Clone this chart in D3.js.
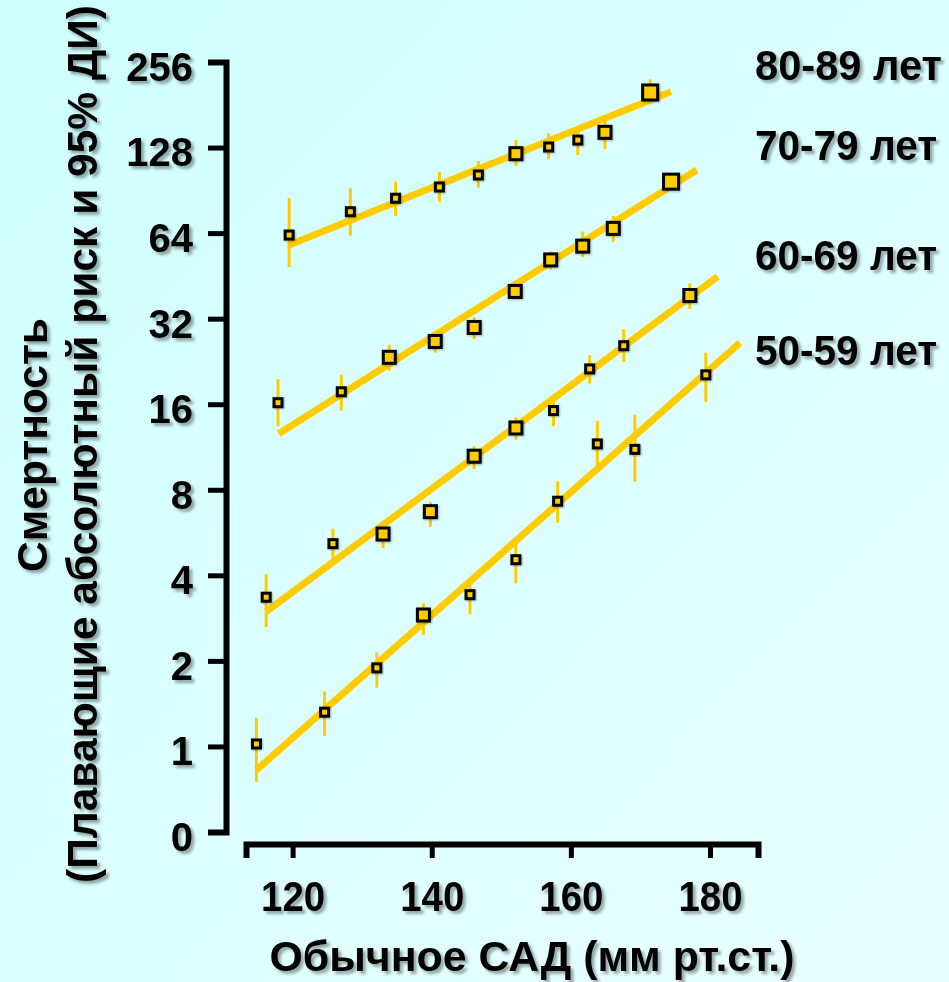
<!DOCTYPE html>
<html>
<head>
<meta charset="utf-8">
<script src="https://cdn.jsdelivr.net/npm/d3@7"></script>
<style>
  body { margin: 0; overflow: hidden; }
  svg { display: block; }
</style>
</head>
<body>
<svg id="chart" width="949" height="982"></svg>
<script>
// Смертность по возрастным группам в зависимости от обычного САД

var ageLabels = ["50-59 лет", "60-69 лет", "70-79 лет", "80-89 лет"];
var yTicks = [0.5, 1, 2, 4, 8, 16, 32, 64, 128, 256];
var xTicks = [120, 140, 160, 180];

// 50-59 лет
var sbp5059 = [114.8, 124.6, 132.1, 138.8, 145.5, 152.1, 158.1, 163.8, 169.2, 179.4];
var risk5059 = [1.02, 1.32, 1.89, 2.90, 3.42, 4.54, 7.29, 11.6, 11.1, 20.3];
var lo5059 = [0.75, 1.09, 1.61, 2.47, 2.92, 3.75, 6.13, 9.73, 8.54, 16.3];
var hi5059 = [1.26, 1.56, 2.14, 3.19, 3.75, 5.18, 8.57, 14.0, 14.7, 24.3];
var weight5059 = [1, 1, 1, 2, 1, 1, 1, 1, 1, 1];
var fit5059 = [[114.8, 0.826], [184.3, 26.3]];

// 60-69 лет
var sbp6069 = [116.2, 125.8, 133.0, 139.8, 146.1, 152.1, 157.5, 162.7, 167.6, 177.1];
var risk6069 = [3.35, 5.17, 5.59, 6.70, 10.5, 13.2, 15.2, 21.3, 25.7, 38.6];
var lo6069 = [2.63, 4.53, 4.99, 5.93, 9.45, 12.0, 13.4, 18.9, 22.5, 34.6];
var hi6069 = [4.04, 5.84, 6.02, 7.25, 11.4, 14.4, 16.6, 23.8, 29.4, 42.6];
var weight6069 = [1, 1, 2, 2, 2, 2, 1, 1, 1, 2];
var fit6069 = [[116.2, 2.98], [181.1, 45.0]];

// 70-79 лет
var sbp7079 = [117.9, 127.0, 133.9, 140.5, 146.1, 152.0, 157.1, 161.7, 166.1, 174.4];
var risk7079 = [16.2, 17.7, 23.4, 26.6, 29.8, 39.9, 51.5, 57.6, 66.5, 97.1];
var lo7079 = [13.4, 15.2, 21.0, 24.3, 27.1, 37.5, 47.7, 52.6, 59.7, 90.7];
var hi7079 = [19.6, 20.3, 25.9, 28.6, 32.4, 42.7, 55.1, 64.8, 73.5, 104];
var weight7079 = [1, 1, 2, 2, 2, 2, 2, 2, 2, 3];
var fit7079 = [[118.0, 12.6], [178.1, 106.7]];

// 80-89 лет
var sbp8089 = [119.5, 128.3, 134.8, 141.1, 146.7, 152.1, 156.8, 161.0, 164.9, 171.4];
var risk8089 = [63.0, 76.1, 84.9, 93.0, 102.5, 121.8, 128.6, 136, 144.8, 200];
var lo8089 = [48.6, 62.7, 73.5, 82.4, 92.5, 110.2, 116.4, 120.5, 126.5, 183];
var hi8089 = [85, 92, 97.1, 105, 114.8, 136, 143.7, 145.5, 160, 222.5];
var weight8089 = [1, 1, 1, 1, 1, 2, 1, 1, 2, 3];
var fit8089 = [[119.5, 58.1], [174.4, 201.3]];

function makeSeries(sbp, risk, lo, hi, weight) {
  return sbp.map(function(s, i) {
    return {sbp: s, risk: risk[i], lo: lo[i], hi: hi[i], w: weight[i]};
  });
}

var series = [
  {points: makeSeries(sbp5059, risk5059, lo5059, hi5059, weight5059), fit: fit5059},
  {points: makeSeries(sbp6069, risk6069, lo6069, hi6069, weight6069), fit: fit6069},
  {points: makeSeries(sbp7079, risk7079, lo7079, hi7079, weight7079), fit: fit7079},
  {points: makeSeries(sbp8089, risk8089, lo8089, hi8089, weight8089), fit: fit8089}
];

var gold = "#ffcc00",
    font = "'Liberation Sans', Arial, sans-serif";

var svg = d3.select("#chart");
var defs = svg.append("defs");

var grad = defs.append("linearGradient").attr("id", "bg")
    .attr("x1", 0).attr("y1", 0).attr("x2", 1).attr("y2", 1);
grad.append("stop").attr("offset", "0%").attr("stop-color", "#cefefe");
grad.append("stop").attr("offset", "100%").attr("stop-color", "#e9ffff");

defs.append("filter").attr("id", "shadow")
    .attr("x", "-10%").attr("y", "-20%").attr("width", "130%").attr("height", "150%")
  .append("feDropShadow")
    .attr("dx", 3).attr("dy", 3).attr("stdDeviation", 1.8)
    .attr("flood-color", "#000").attr("flood-opacity", 0.35);

defs.append("filter").attr("id", "mshadow")
    .attr("x", "-30%").attr("y", "-30%").attr("width", "170%").attr("height", "170%")
  .append("feDropShadow")
    .attr("dx", 1).attr("dy", 1).attr("stdDeviation", 0.8)
    .attr("flood-color", "#000").attr("flood-opacity", 0.3);

svg.append("rect").attr("width", 949).attr("height", 982).attr("fill", "url(#bg)");

var x = d3.scaleLinear().domain([113.3, 186.9]).range([246, 758]);
var y = d3.scaleLog().base(2).domain([0.5, 256]).range([832, 62]);
var side = d3.scaleOrdinal().domain([1, 2, 3]).range([8, 12, 15]);

// squeeze text to a given width
function fit(sel, w) {
  sel.attr("textLength", w).attr("lengthAdjust", "spacingAndGlyphs");
}

// axes
var yAxis = svg.append("g")
    .attr("transform", "translate(226,0)")
    .call(d3.axisLeft(y).tickValues(yTicks)
      .tickFormat(function(d) { return d < 1 ? "0" : d; })
      .tickSize(18).tickSizeOuter(18).tickPadding(15));
yAxis.select(".domain").attr("stroke", "#000").attr("stroke-width", 6).attr("fill", "none");
yAxis.selectAll(".tick line").attr("stroke", "#000").attr("stroke-width", 5);
yAxis.selectAll(".tick text")
    .attr("font-family", font).attr("font-weight", "bold").attr("font-size", 40)
    .attr("fill", "#000").attr("dy", "0.46em").attr("filter", "url(#shadow)");

var xAxis = svg.append("g")
    .attr("transform", "translate(0,844)")
    .call(d3.axisBottom(x).tickValues(xTicks).tickSize(14).tickSizeOuter(14));
xAxis.select(".domain").attr("stroke", "#000").attr("stroke-width", 6).attr("fill", "none");
xAxis.selectAll(".tick line").attr("stroke", "#000").attr("stroke-width", 5);
xAxis.selectAll(".tick text")
    .attr("font-family", font).attr("font-weight", "bold").attr("font-size", 43)
    .attr("fill", "#000").attr("y", 67).attr("dy", 0).attr("filter", "url(#shadow)")
    .call(fit, 64);
xAxis.attr("font-size", null).attr("font-family", null);
yAxis.attr("font-size", null).attr("font-family", null);

// fitted lines
var plot = svg.append("g");
plot.selectAll(".fit")
  .data(series)
  .enter().append("line")
    .attr("class", "fit")
    .attr("x1", function(d) { return x(d.fit[0][0]); })
    .attr("y1", function(d) { return y(d.fit[0][1]); })
    .attr("x2", function(d) { return x(d.fit[1][0]); })
    .attr("y2", function(d) { return y(d.fit[1][1]); })
    .attr("stroke", gold).attr("stroke-width", 7);

var allPoints = [];
series.forEach(function(s) { allPoints = allPoints.concat(s.points); });

// confidence intervals
plot.selectAll(".ci")
  .data(allPoints)
  .enter().append("line")
    .attr("class", "ci")
    .attr("x1", function(d) { return x(d.sbp); })
    .attr("x2", function(d) { return x(d.sbp); })
    .attr("y1", function(d) { return y(d.lo); })
    .attr("y2", function(d) { return y(d.hi); })
    .attr("stroke", gold).attr("stroke-width", 3);

// squares
plot.selectAll(".pt")
  .data(allPoints)
  .enter().append("rect")
    .attr("class", "pt")
    .attr("x", function(d) { return x(d.sbp) - side(d.w) / 2; })
    .attr("y", function(d) { return y(d.risk) - side(d.w) / 2; })
    .attr("width", function(d) { return side(d.w); })
    .attr("height", function(d) { return side(d.w); })
    .attr("fill", gold).attr("stroke", "#000").attr("stroke-width", 3)
    .attr("filter", "url(#mshadow)");

// group labels
var labelBase = [365, 270, 160, 80],
    labelWidth = [182, 182, 182, 187];
svg.append("g").attr("filter", "url(#shadow)")
  .selectAll("text")
  .data(ageLabels)
  .enter().append("text")
    .attr("x", 755)
    .attr("y", function(d, i) { return labelBase[i]; })
    .attr("font-family", font).attr("font-weight", "bold").attr("font-size", 42)
    .text(function(d) { return d; })
    .each(function(d, i) { fit(d3.select(this), labelWidth[i]); });

// axis titles
var titles = svg.append("g").attr("filter", "url(#shadow)")
    .attr("font-family", font).attr("font-weight", "bold").attr("font-size", 42)
    .attr("text-anchor", "middle");

titles.append("text")
    .attr("transform", "translate(47,445) rotate(-90)")
    .text("Смертность")
    .call(fit, 254);

titles.append("text")
    .attr("transform", "translate(97,444) rotate(-90)")
    .text("(Плавающие абсолютный риск и 95% ДИ)")
    .call(fit, 878);

titles.append("text")
    .attr("x", 532).attr("y", 971)
    .attr("font-size", 42)
    .text("Обычное САД (мм рт.ст.)")
    .call(fit, 525);
</script>
</body>
</html>
